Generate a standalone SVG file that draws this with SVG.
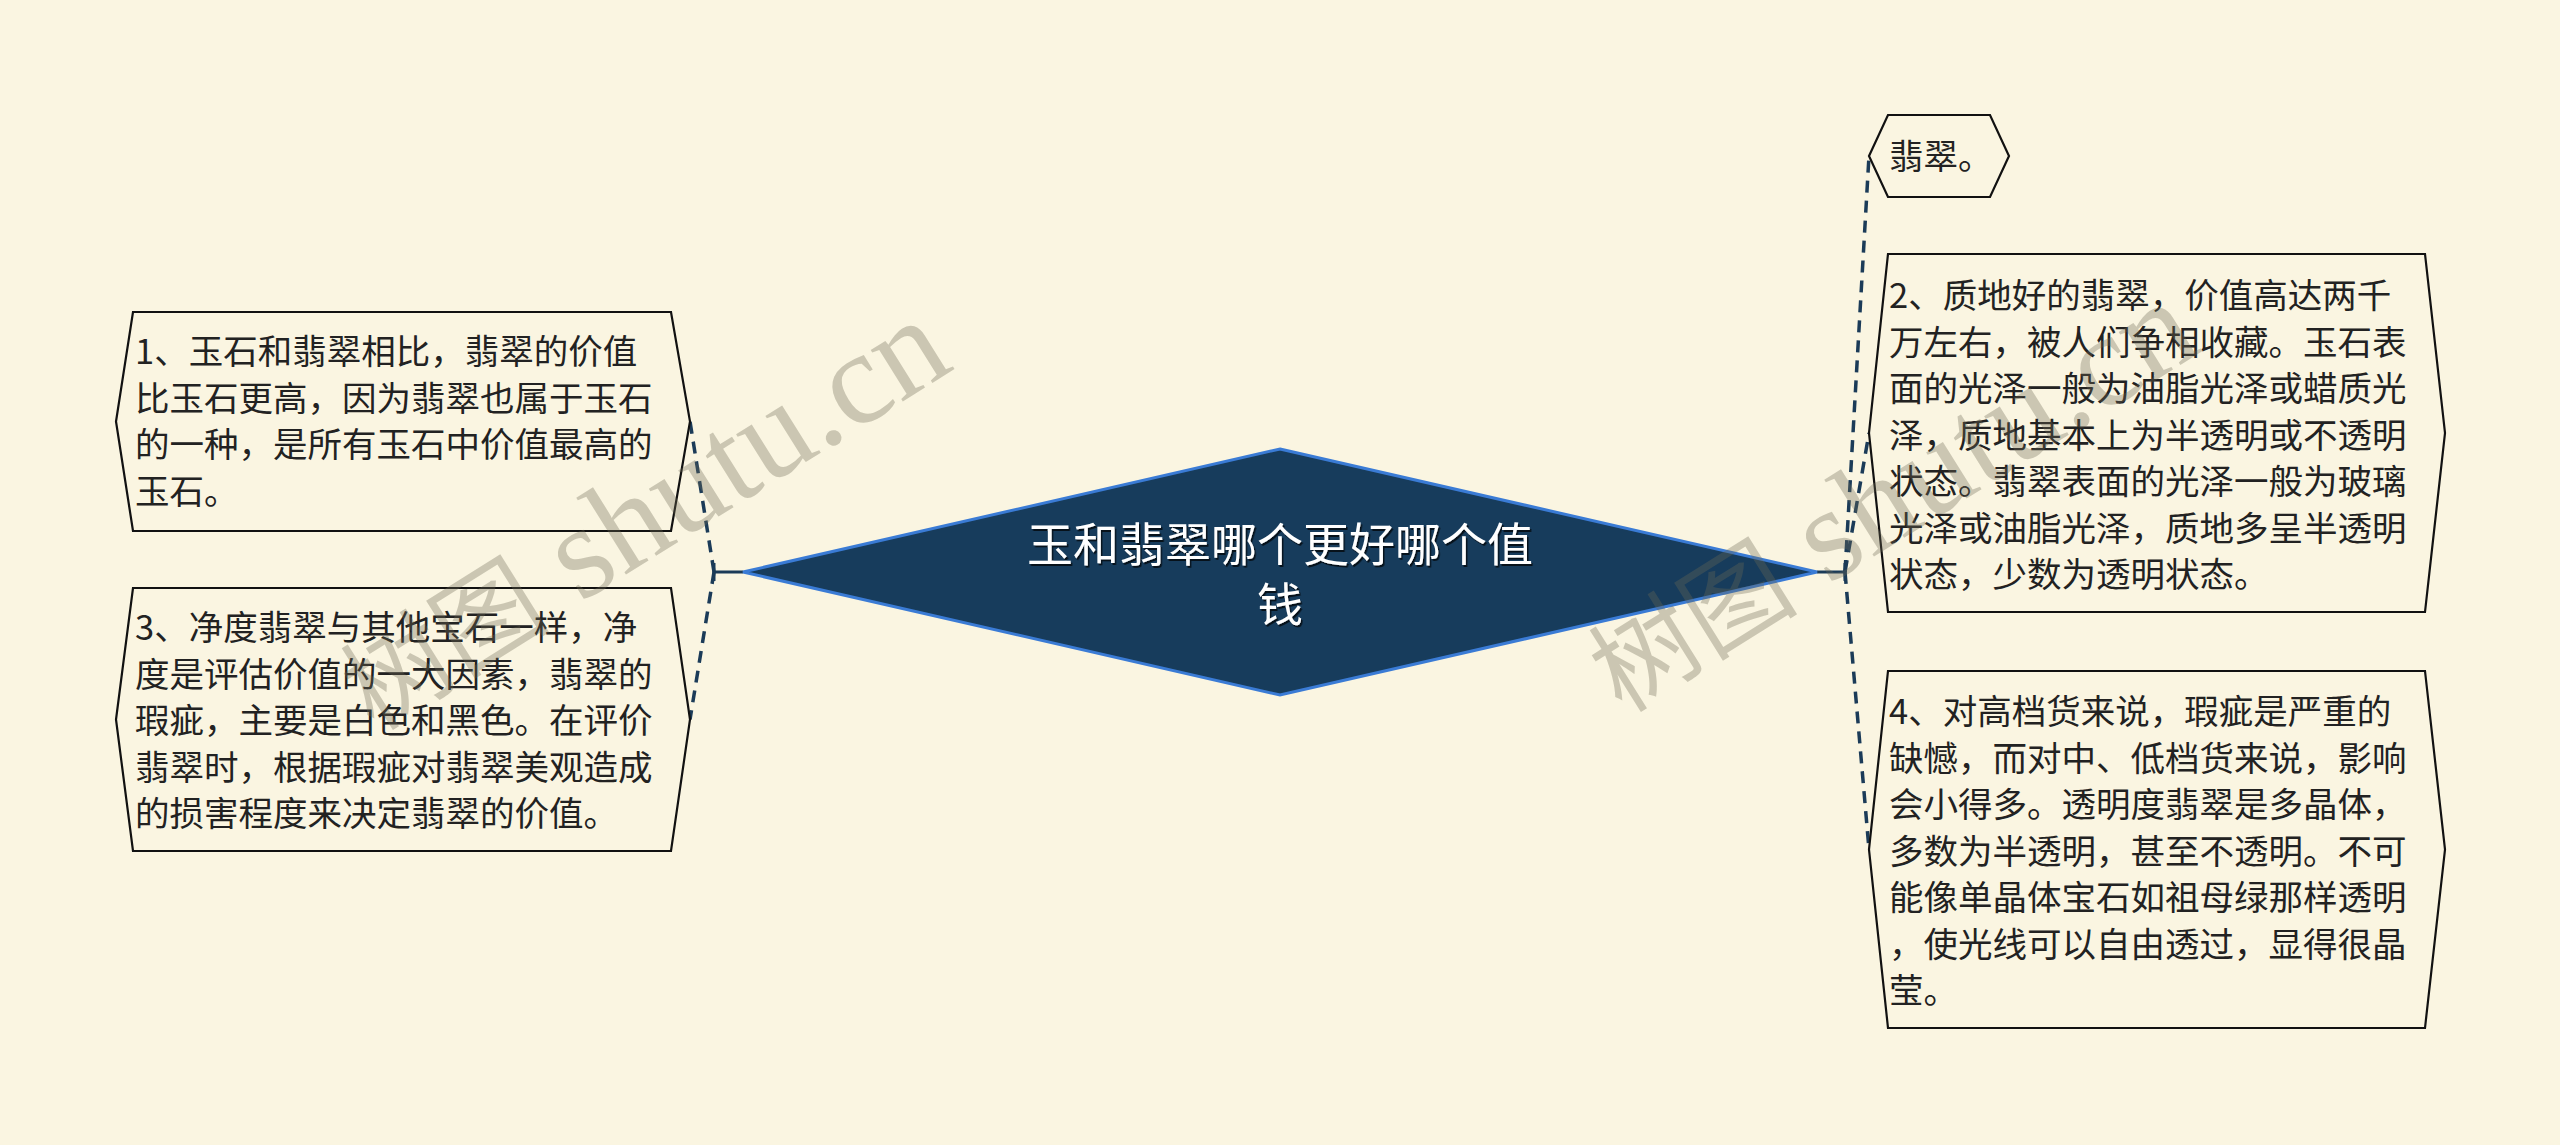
<svg xmlns="http://www.w3.org/2000/svg" width="2560" height="1145" viewBox="0 0 2560 1145">
<defs>
<style>
.bg{fill:#faf5e1}
.node{fill:#faf5e1;stroke:#111;stroke-width:2.2}
.txt{font-family:"Noto Sans CJK SC","Noto Sans",sans-serif;font-size:34.5px;fill:#222}
.title{font-family:"Noto Sans CJK SC","Noto Sans",sans-serif;font-size:46px;fill:#fff;text-anchor:middle}
.stub{stroke:#1b3b58;stroke-width:3;fill:none}
.dash{stroke:#1b3b58;stroke-width:3.5;fill:none;stroke-dasharray:12 8}
.wm{font-family:"Liberation Serif","Noto Sans CJK SC",serif;fill:#6e6a55;opacity:0.33}
</style>
<filter id="ts" x="-10%" y="-10%" width="120%" height="130%">
<feDropShadow dx="1.5" dy="2" stdDeviation="0.6" flood-color="#000" flood-opacity="0.7"/>
</filter>
</defs>
<rect class="bg" x="0" y="0" width="2560" height="1145"/>
<g id="connectors">
<line class="stub" x1="743" y1="572" x2="714" y2="572"/>
<line class="stub" x1="714" y1="563" x2="714" y2="581"/>
<path class="dash" d="M714,572 L690,421.5"/>
<path class="dash" d="M714,572 L690,719.5"/>
<line class="stub" x1="1817" y1="572" x2="1845" y2="572"/>
<line class="stub" x1="1845" y1="563" x2="1845" y2="581"/>
<path class="dash" d="M1845,572 L1869,156"/>
<path class="dash" d="M1845,572 L1869,433"/>
<path class="dash" d="M1845,572 L1869,849.5"/>
</g>
<g id="root">
<polygon points="1280,449 1817,572 1280,695 743,572" fill="#173c5c" stroke="#3a7bd5" stroke-width="3"/>
<text class="title" x="1280" y="560.5" filter="url(#ts)"><tspan x="1280">玉和翡翠哪个更好哪个值</tspan><tspan x="1280" y="620.5">钱</tspan></text>
</g>
<g id="node1">
<polygon class="node" points="133,312 671,312 690,421.5 671,531 133,531 116,421.5"/>
<text class="txt"><tspan x="135" y="364">1、玉石和翡翠相比，翡翠的价值</tspan><tspan x="135" y="410.5">比玉石更高，因为翡翠也属于玉石</tspan><tspan x="135" y="457">的一种，是所有玉石中价值最高的</tspan><tspan x="135" y="503.5">玉石。</tspan></text>
</g>
<g id="node3">
<polygon class="node" points="133,588 671,588 690,719.5 671,851 133,851 116,719.5"/>
<text class="txt"><tspan x="135" y="640">3、净度翡翠与其他宝石一样，净</tspan><tspan x="135" y="686.5">度是评估价值的一大因素，翡翠的</tspan><tspan x="135" y="733">瑕疵，主要是白色和黑色。在评价</tspan><tspan x="135" y="779.5">翡翠时，根据瑕疵对翡翠美观造成</tspan><tspan x="135" y="826">的损害程度来决定翡翠的价值。</tspan></text>
</g>
<g id="node0">
<polygon class="node" points="1888,115 1990,115 2009,156 1990,197 1888,197 1869,156"/>
<text class="txt" x="1889" y="169">翡翠。</text>
</g>
<g id="node2">
<polygon class="node" points="1888,254 2425,254 2445,433 2425,612 1888,612 1869,433"/>
<text class="txt"><tspan x="1889" y="308">2、质地好的翡翠，价值高达两千</tspan><tspan x="1889" y="354.5">万左右，被人们争相收藏。玉石表</tspan><tspan x="1889" y="401">面的光泽一般为油脂光泽或蜡质光</tspan><tspan x="1889" y="447.5">泽，质地基本上为半透明或不透明</tspan><tspan x="1889" y="494">状态。翡翠表面的光泽一般为玻璃</tspan><tspan x="1889" y="540.5">光泽或油脂光泽，质地多呈半透明</tspan><tspan x="1889" y="587">状态，少数为透明状态。</tspan></text>
</g>
<g id="node4">
<polygon class="node" points="1888,671 2425,671 2445,849.5 2425,1028 1888,1028 1869,849.5"/>
<text class="txt"><tspan x="1889" y="724">4、对高档货来说，瑕疵是严重的</tspan><tspan x="1889" y="770.5">缺憾，而对中、低档货来说，影响</tspan><tspan x="1889" y="817">会小得多。透明度翡翠是多晶体，</tspan><tspan x="1889" y="863.5">多数为半透明，甚至不透明。不可</tspan><tspan x="1889" y="910">能像单晶体宝石如祖母绿那样透明</tspan><tspan x="1889" y="956.5">，使光线可以自由透过，显得很晶</tspan><tspan x="1889" y="1003">莹。</tspan></text>
</g>
<g id="watermark">
<text class="wm" transform="translate(374,732) rotate(-32)"><tspan font-size="105">树图</tspan><tspan font-size="132"> shutu.cn</tspan></text>
<text class="wm" transform="translate(1622,714) rotate(-32)"><tspan font-size="105">树图</tspan><tspan font-size="132"> shutu.cn</tspan></text>
</g>
</svg>
